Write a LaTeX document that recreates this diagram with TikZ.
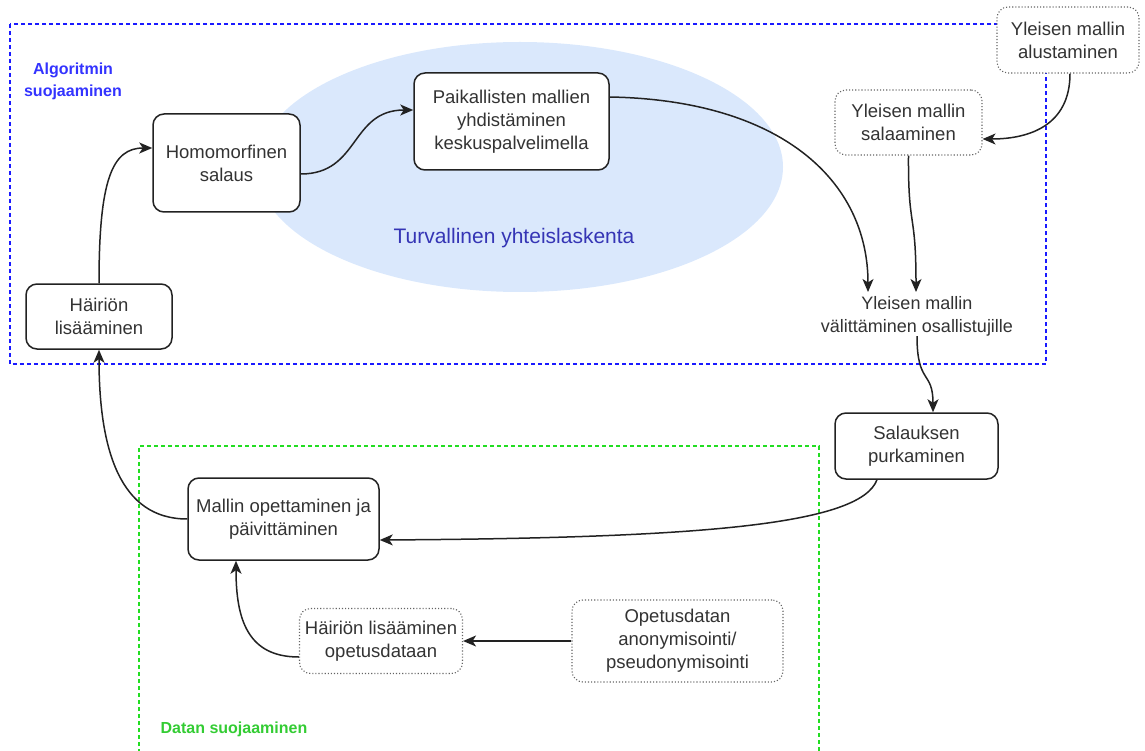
\documentclass[tikz,border=0pt]{standalone}
\usepackage{fontspec}
\setmainfont{Liberation Sans}
\usetikzlibrary{arrows.meta}
\definecolor{txt}{HTML}{333333}
\definecolor{bord}{HTML}{222222}
\definecolor{ellfill}{HTML}{DAE8FC}
\definecolor{bluedash}{HTML}{1A1AFF}
\definecolor{bluelab}{HTML}{3333FF}
\definecolor{turva}{HTML}{3535B5}
\definecolor{greendash}{HTML}{22DD22}
\definecolor{greenlab}{HTML}{33CC33}
\tikzset{
  boxtext/.style={font=\fontsize{18.5}{23}\selectfont, text=txt, align=center},
  solidbox/.style={boxtext, draw=bord, line width=1.5pt, rounded corners=11pt, fill=white, inner sep=0pt},
  dotbox/.style={boxtext, draw=bord!70, dotted, line width=1.1pt, rounded corners=11pt, fill=white, inner sep=0pt},
  conn/.style={draw=bord, line width=1.5pt, -{Stealth[length=13pt,width=11pt,inset=3.5pt]}},
  region/.style={dash pattern=on 4pt off 3pt, line width=1.3pt},
}
\begin{document}
\begin{tikzpicture}[x=1pt, y=-1pt]
\useasboundingbox (0,0) rectangle (1145,751);
% background shapes
\fill[ellfill] (520,167) ellipse [x radius=263, y radius=125];
\draw[region, draw=bluedash] (10,24) rectangle (1046,364);
\draw[region, draw=greendash] (139,760) -- (139,446) -- (819,446) -- (819,760);

% labels
\node[text=bluelab, font=\bfseries\fontsize{16}{22}\selectfont, align=center] (alglab) at (73,81) {Algoritmin\\suojaaminen};
\node[text=greenlab, font=\bfseries\fontsize{16}{20}\selectfont] (datlab) at (234,729) {Datan suojaaminen};
\node[text=turva, font=\fontsize{21}{25}\selectfont] (turlab) at (514,238) {Turvallinen yhteislaskenta};

% nodes
\node[dotbox, minimum width=142pt, minimum height=66pt] (alust) at (1068,40) {Yleisen mallin\\alustaminen};
\node[dotbox, minimum width=147pt, minimum height=65pt] (salaa) at (908.5,122.5) {Yleisen mallin\\salaaminen};
\node[solidbox, minimum width=147pt, minimum height=98pt] (homo) at (226.5,163) {Homomorfinen\\salaus};
\node[solidbox, minimum width=195pt, minimum height=97pt] (paik) at (511.5,121.5) {Paikallisten mallien\\yhdistäminen\\keskuspalvelimella};
\node[solidbox, minimum width=146pt, minimum height=65pt] (hair1) at (99,316.5) {Häiriön\\lisääminen};
\node[boxtext, font=\fontsize{18}{23}\selectfont, inner sep=0pt] (valit) at (917,316) {Yleisen mallin\\välittäminen osallistujille};
\node[solidbox, minimum width=163pt, minimum height=66pt] (salpur) at (916.5,446) {Salauksen\\purkaminen};
\node[solidbox, minimum width=191pt, minimum height=82pt] (mallin) at (283.5,519) {Mallin opettaminen ja\\päivittäminen};
\node[dotbox, minimum width=163pt, minimum height=65pt] (hair2) at (381,641) {Häiriön lisääminen\\opetusdataan};
\node[dotbox, minimum width=211pt, minimum height=82pt] (opet) at (677.5,641) {Opetusdatan\\anonymisointi/\\pseudonymisointi};

% connectors
\coordinate (valitin) at (868,292);
\coordinate (valitin2) at (916,292);
\draw[conn] (alust.south -| 1070,0) .. controls (1070,125) and (1030,139) .. (salaa.east |- 0,139);
\draw[conn] (salaa.south) .. controls (908,230) and (916,210) .. (valitin2);
\draw[conn] (paik.east |- 0,97) .. controls (780,100) and (868,180) .. (valitin);
\draw[conn] (valit.south -| 917,0) .. controls (917,385) and (933,370) .. (salpur.north -| 933,0);
\draw[conn] (salpur.south -| 877,0) .. controls (860,525) and (700,538) .. (mallin.east |- 0,540);
\draw[conn] (mallin.west) .. controls (120,519) and (99,450) .. (hair1.south);
\draw[conn] (hair1.north) .. controls (99,180) and (112,148) .. (homo.west |- 0,148);
\draw[conn] (homo.east |- 0,174) .. controls (360,174) and (350,110) .. (paik.west |- 0,110);
\draw[conn] (opet.west) -- (hair2.east);
\draw[conn] (hair2.west |- 0,657) .. controls (248,657) and (236,620) .. (mallin.south -| 236,0);
\end{tikzpicture}
\end{document}
